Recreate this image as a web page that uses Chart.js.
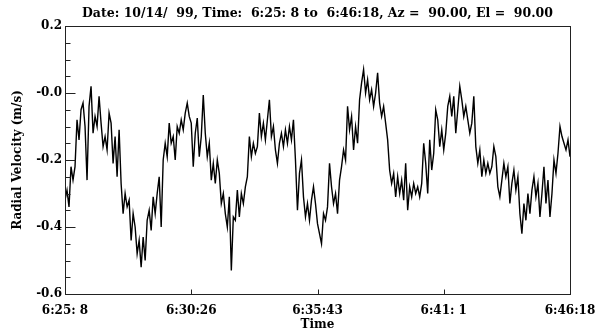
<!DOCTYPE html>
<html>
<head>
<meta charset="utf-8">
<script src="https://cdn.jsdelivr.net/npm/chart.js@4.4.1/dist/chart.umd.min.js"></script>
<style>
    html, body { margin: 0; padding: 0; background: #fff; }
    #wrap { width: 596px; height: 333px; }
</style>
</head>
<body>
<div id="wrap"><canvas id="velocityChart" width="596" height="333"></canvas></div>
<script>
// Sampling: 6:25:08 to 6:46:18 (1270 s), one reading every 1270/252 s
const totalSeconds = 1270;
const sampleStep = 1270 / 252;

// Radial velocity (m/s)
const velocity = [
    -0.32, -0.29, -0.34, -0.22, -0.26, -0.22, -0.08, -0.14, -0.05, -0.03,
    -0.10, -0.26, -0.04, 0.02, -0.12, -0.07, -0.10, -0.01, -0.09, -0.16,
    -0.13, -0.17, -0.06, -0.09, -0.21, -0.13, -0.25, -0.11, -0.27, -0.36,
    -0.30, -0.34, -0.32, -0.44, -0.36, -0.40, -0.48, -0.44, -0.52, -0.43,
    -0.50, -0.38, -0.35, -0.41, -0.31, -0.36, -0.30, -0.25, -0.40, -0.20,
    -0.15, -0.19, -0.09, -0.15, -0.13, -0.20, -0.10, -0.12, -0.08, -0.11,
    -0.06, -0.03, -0.07, -0.09, -0.22, -0.12, -0.075, -0.19, -0.13, -0.006,
    -0.12, -0.19, -0.15, -0.26, -0.21, -0.27, -0.20, -0.24, -0.33, -0.30,
    -0.36, -0.40, -0.31, -0.53, -0.37, -0.38, -0.29, -0.37, -0.30, -0.33,
    -0.28, -0.25, -0.13, -0.19, -0.15, -0.18, -0.16, -0.06, -0.13, -0.09,
    -0.14, -0.08, -0.02, -0.13, -0.10, -0.17, -0.21, -0.15, -0.12, -0.16,
    -0.11, -0.15, -0.10, -0.14, -0.08, -0.20, -0.35, -0.24, -0.20, -0.31,
    -0.37, -0.33, -0.38, -0.32, -0.28, -0.33, -0.39, -0.42, -0.45, -0.36,
    -0.38, -0.34, -0.21, -0.28, -0.33, -0.30, -0.36, -0.26, -0.22, -0.17,
    -0.20, -0.04, -0.11, -0.07, -0.17, -0.10, -0.15, -0.02, 0.03, 0.07,
    0.00, 0.04, -0.02, 0.01, -0.04, 0.00, 0.06, -0.03, -0.07, -0.04,
    -0.09, -0.14, -0.23, -0.27, -0.24, -0.31, -0.25, -0.30, -0.26, -0.32,
    -0.21, -0.35, -0.28, -0.31, -0.27, -0.30, -0.28, -0.31, -0.27, -0.15,
    -0.21, -0.30, -0.14, -0.23, -0.18, -0.05, -0.08, -0.16, -0.11, -0.17,
    -0.12, -0.04, -0.01, -0.07, -0.01, -0.12, -0.05, 0.02, -0.02, -0.07,
    -0.04, -0.08, -0.12, -0.09, -0.01, -0.16, -0.21, -0.17, -0.25, -0.20,
    -0.24, -0.21, -0.24, -0.22, -0.16, -0.19, -0.28, -0.31, -0.26, -0.21,
    -0.25, -0.22, -0.33, -0.27, -0.23, -0.29, -0.25, -0.36, -0.42, -0.33,
    -0.38, -0.30, -0.36, -0.29, -0.25, -0.31, -0.27, -0.37, -0.30, -0.22,
    -0.33, -0.26, -0.37, -0.30, -0.20, -0.24, -0.18, -0.10, -0.13, -0.15,
    -0.17, -0.14, -0.19
];

// Axis tick labels
const xTickLabels = ['6:25: 8', '6:30:26', '6:35:43', '6:41: 1', '6:46:18'];
const yTickValues = [0.2, 0.0, -0.2, -0.4, -0.6];
const yTickLabels = ['0.2', '-0.0', '-0.2', '-0.4', '-0.6'];

const titleText = 'Date: 10/14/  99, Time:  6:25: 8 to  6:46:18, Az =  90.00, El =  90.00';

const serifBold = { family: "'DejaVu Serif', 'Liberation Serif', serif", weight: 'bold', size: 12 };

const points = velocity.map((v, i) => ({ x: i * sampleStep, y: v }));

// IDL style box with inward ticks, title centred over the plot box
const boxPlugin = {
    id: 'idlBox',
    afterDatasetsDraw(chart) {
        const { ctx, chartArea: a, scales } = chart;
        const left = Math.round(a.left) + 0.5;
        const right = Math.round(a.right) + 0.5;
        const top = Math.round(a.top) + 0.5;
        const bottom = Math.round(a.bottom) + 0.5;
        ctx.save();
        ctx.strokeStyle = '#222';
        ctx.lineWidth = 1;
        ctx.strokeRect(left, top, right - left, bottom - top);
        ctx.beginPath();
        scales.y.ticks.forEach((t, i) => {
            const y = Math.round(scales.y.getPixelForValue(t.value)) + 0.5;
            const len = (i % 4 === 0) ? 10 : 5;
            ctx.moveTo(left, y);
            ctx.lineTo(left + len, y);
        });
        scales.x.ticks.forEach(t => {
            const x = Math.round(scales.x.getPixelForValue(t.value)) + 0.5;
            ctx.moveTo(x, bottom);
            ctx.lineTo(x, bottom - 5);
        });
        ctx.stroke();

        ctx.fillStyle = '#000';
        ctx.font = 'bold 12.5px "DejaVu Serif", "Liberation Serif", serif';
        ctx.textAlign = 'center';
        ctx.textBaseline = 'middle';
        ctx.fillText(titleText, (a.left + a.right) / 2, 14);
        ctx.restore();
    }
};

new Chart(document.getElementById('velocityChart'), {
    type: 'line',
    data: {
        datasets: [{
            data: points,
            borderColor: '#000',
            borderWidth: 1.4,
            pointRadius: 0,
            tension: 0,
            fill: false
        }]
    },
    options: {
        responsive: false,
        animation: false,
        layout: { padding: { left: 0, right: 26, top: 26, bottom: 0 } },
        plugins: {
            legend: { display: false },
            tooltip: { enabled: false },
            title: { display: false }
        },
        scales: {
            x: {
                type: 'linear',
                min: 0,
                max: totalSeconds,
                grid: { display: false, drawTicks: false },
                border: { display: false },
                ticks: {
                    stepSize: totalSeconds / 4,
                    autoSkip: false,
                    maxRotation: 0,
                    color: '#000',
                    font: serifBold,
                    padding: 10,
                    callback: (value, index) => xTickLabels[index]
                },
                title: {
                    display: true,
                    text: 'Time',
                    color: '#000',
                    font: serifBold,
                    padding: { top: 0, bottom: 1 }
                },
                afterFit: scale => {
                    scale.height = 39;
                    scale.paddingLeft = 0;
                    scale.paddingRight = 0;
                }
            },
            y: {
                min: -0.6,
                max: 0.2,
                grid: { display: false, drawTicks: false },
                border: { display: false },
                ticks: {
                    stepSize: 0.05,
                    autoSkip: false,
                    color: '#000',
                    font: serifBold,
                    padding: 3,
                    callback: function (value) {
                        const k = yTickValues.findIndex(v => Math.abs(v - value) < 1e-6);
                        return k >= 0 ? yTickLabels[k] : '';
                    }
                },
                title: {
                    display: true,
                    text: 'Radial Velocity (m/s)',
                    color: '#000',
                    font: serifBold,
                    padding: { top: 11, bottom: 4 }
                },
                afterFit: scale => {
                    scale.width = 65;
                    scale.paddingTop = 0;
                    scale.paddingBottom = 0;
                }
            }
        }
    },
    plugins: [boxPlugin]
});
</script>
</body>
</html>
